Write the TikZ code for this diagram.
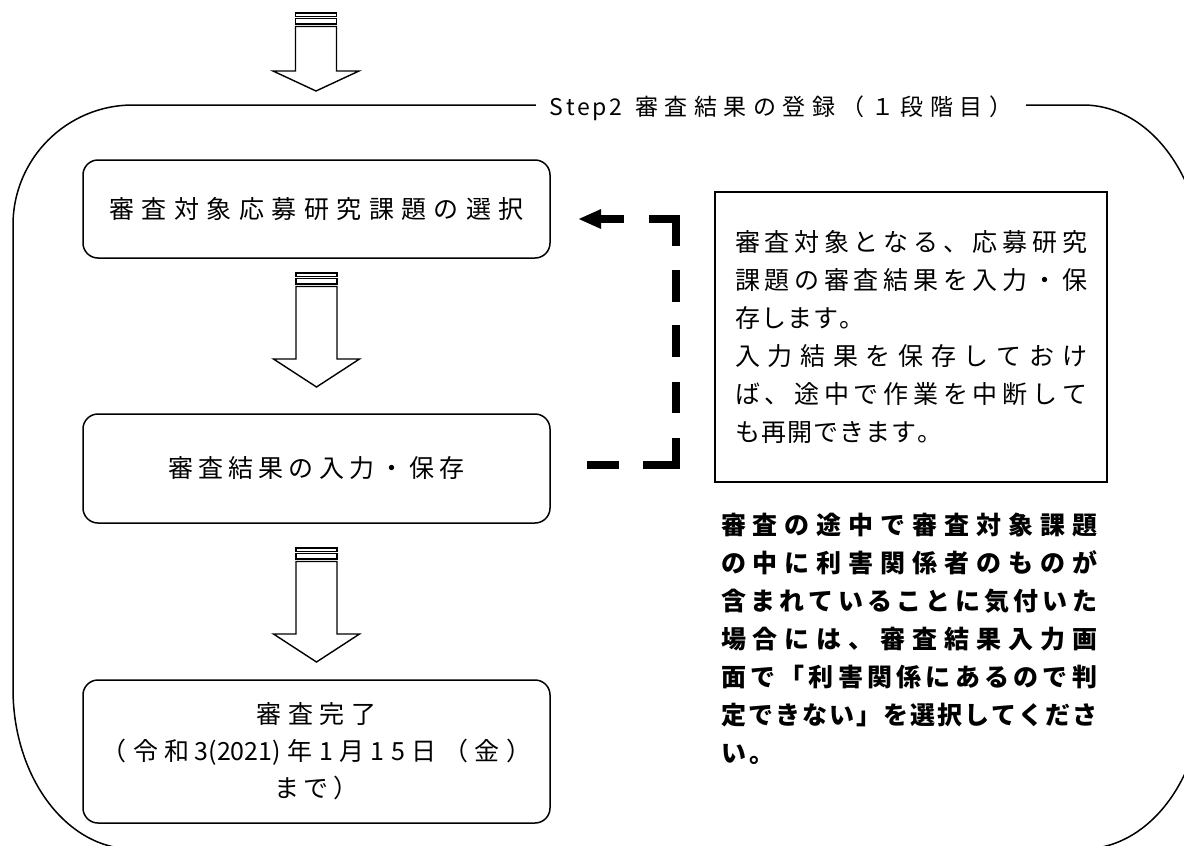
\documentclass[tikz,border=0pt]{standalone}
\usepackage{fontspec}
\setmainfont{Noto Sans CJK JP}
\usetikzlibrary{arrows.meta}
% tracking: insert a fixed kern between characters
\def\trk#1#2{\def\trkamt{#1}\trkfirst#2\relax}
\def\trkfirst#1{#1\trkloop}
\def\trkloop#1{\ifx#1\relax\else\kern\trkamt\relax#1\expandafter\trkloop\fi}
% justification: spread characters over a given width
\def\jst#1#2{\makebox[#1][s]{\jstfirst#2\relax}}
\def\jstfirst#1{#1\jstloop}
\def\jstloop#1{\ifx#1\relax\else\hskip 0pt plus 1fil\relax#1\expandafter\jstloop\fi}
\newcommand\boxfont{\fontsize{25}{37}\selectfont}
\newcommand\notefont{\fontsize{25}{38}\selectfont}
\newcommand\warnfont{\fontsize{25}{38}\selectfont\bfseries}
\newcommand\lblfont{\fontsize{23}{26}\selectfont}
\newcommand\stripedarrow[4]{%
  \draw[barrow] (#1-20.5,#2) rectangle (#1+20.5,#2+3.5);
  \draw[barrow] (#1-20.5,#2+5.5) rectangle (#1+20.5,#2+11);
  \draw[barrow] (#1-20.5,#2+13.5) -- (#1-20.5,#3) -- (#1-43,#3) -- (#1,#4)
     -- (#1+43,#3) -- (#1+20.5,#3) -- (#1+20.5,#2+13.5) -- cycle;
}
\begin{document}
\begin{tikzpicture}[x=1pt,y=-1pt,line join=miter,
  frame/.style={draw,line width=1.5pt},
  barrow/.style={draw,line width=1.4pt,fill=white},
  flowbox/.style={draw,line width=1.5pt,rounded corners=15pt,minimum width=467pt,
     inner sep=0pt,align=center,font=\boxfont},
  notebox/.style={draw,line width=1.8pt,minimum width=392pt,minimum height=290pt,
     inner sep=0pt,align=left,font=\notefont},
  warntext/.style={inner sep=0pt,align=left,font=\warnfont},
  steplabel/.style={fill=white,inner xsep=14pt,inner ysep=3pt,font=\lblfont},
  dconn/.style={line width=7.5pt,
     dash pattern=on 32pt off 24pt on 60pt off 25pt on 31pt off 25pt on 32pt off 23pt on 32pt off 24pt on 54pt off 25pt on 80pt,
     -{Triangle[length=23pt,width=18pt]}}]
\useasboundingbox (0,0) rectangle (1184,846);
\clip (0,0) rectangle (1184,846);
\fill[white] (0,0) rectangle (1184,846);

% outer frame
\draw[frame] (133,105) -- (1083,105)
  .. controls (1149.3,105) and (1203,176.6) .. (1203,265) -- (1203,689)
  .. controls (1203,777.4) and (1149.3,849) .. (1083,849) -- (133,849)
  .. controls (66.7,849) and (13,777.4) .. (13,689) -- (13,225)
  .. controls (13,158.7) and (66.7,105) .. (133,105) -- cycle;
\node[steplabel] (step) at (781,108)
  {\trk{2.5pt}{Step2}\kern13pt\trk{6.5pt}{審査結果の登録（１段階目）}};

% block arrows
\stripedarrow{316}{13}{71}{91}
\stripedarrow{316.5}{273}{359}{387}
\stripedarrow{316.5}{548}{634}{662}

% flow boxes
\node[flowbox,minimum height=98pt] (box1) at (316.5,209)
  {\trk{7.5pt}{審査対象応募研究課題の選択}};
\node[flowbox,minimum height=109pt] (box2) at (316.5,468.5)
  {\trk{5.2pt}{審査結果の入力・保存}};
\node[flowbox,minimum height=143pt] (box3) at (316.5,751.5)
  {\trk{6.7pt}{審査完了}\\
   \trk{6.5pt}{（令和}\kern5pt 3(2021)\kern6.5pt\trk{6.5pt}{年1月15日（金）}\\
   \trk{5pt}{まで）}};

% note box
\node[notebox] (note) at (911,337)
  {\jst{352pt}{審査対象となる、応募研究}\\
   \jst{352pt}{課題の審査結果を入力・保}\\
   \trk{1pt}{存します。}\\
   \jst{352pt}{入力結果を保存しておけ}\\
   \jst{352pt}{ば、途中で作業を中断して}\\
   \trk{1pt}{も再開できます。}};

% warning text
\node[warntext] (warn) at (909,639)
  {\jst{376pt}{審査の途中で審査対象課題}\\
   \jst{376pt}{の中に利害関係者のものが}\\
   \jst{376pt}{含まれていることに気付いた}\\
   \jst{376pt}{場合には、審査結果入力画}\\
   \jst{376pt}{面で「利害関係にあるので判}\\
   \jst{376pt}{定できない」を選択してくださ}\\
   \trk{3pt}{い。}};

% dashed feedback connector
\coordinate (dA) at (587,465);
\coordinate (dB) at (676,465);
\coordinate (dC) at (676,219);
\coordinate (dD) at (578,219);
\draw[dconn] (dA) -- (dB) -- (dC) -- (dD);
\end{tikzpicture}
\end{document}
